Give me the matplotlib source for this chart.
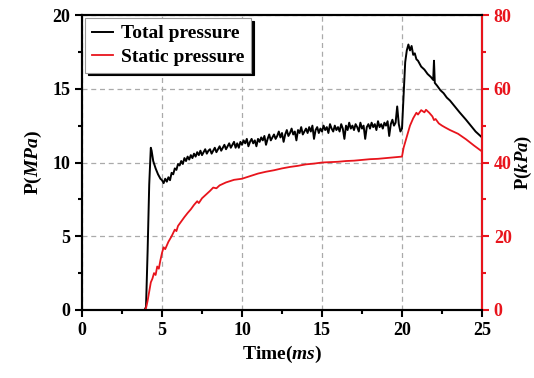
import numpy as np
import matplotlib
matplotlib.use('Agg')
import matplotlib.pyplot as plt
from matplotlib.ticker import MultipleLocator

# total pressure (MPa)
t_total = [0.0, 3.9, 4.0, 4.1, 4.2, 4.3, 4.35, 4.45, 4.6, 4.75, 4.9]
p_total = [0.0, 0.0, 0.2, 4.0, 8.5, 11.0, 10.8, 10.1, 9.6, 9.2, 8.9]
t_mid = [round(5.0 + 0.1 * i, 1) for i in range(150)]
p_mid = [
    8.8, 8.6, 8.9, 8.7, 9.0, 8.8, 9.3, 9.2, 9.6, 9.5,
    9.9, 9.8, 10.1, 9.9, 10.3, 10.1, 10.4, 10.2, 10.5, 10.3,
    10.6, 10.4, 10.7, 10.5, 10.8, 10.5, 10.7, 10.9, 10.6, 10.8,
    10.9, 10.6, 10.8, 11.0, 10.7, 10.9, 11.1, 10.8, 11.0, 11.2,
    10.9, 11.1, 11.3, 11.0, 11.2, 11.4, 11.0, 11.3, 11.0, 11.4,
    11.2, 11.5, 11.3, 11.6, 11.1, 11.4, 11.6, 11.3, 11.5, 11.1,
    11.6, 11.4, 11.7, 11.5, 11.8, 11.2, 11.6, 11.9, 11.5, 11.7,
    11.9, 11.6, 11.8, 12.1, 11.7, 12.0, 11.4, 11.9, 12.2, 11.8,
    12.0, 12.3, 11.9, 12.1, 11.5, 12.2, 12.0, 12.4, 11.9, 12.1,
    12.3, 12.0, 12.4, 12.1, 12.5, 11.6, 12.2, 12.4, 12.0, 12.3,
    12.1, 12.5, 12.2, 12.4, 12.0, 12.6, 12.3, 12.1, 12.5, 12.2,
    12.4, 12.1, 12.6, 12.3, 11.6, 12.5, 12.2, 12.7, 12.3, 12.5,
    12.2, 12.6, 12.4, 12.1, 12.7, 12.3, 12.5, 11.6, 12.4, 12.6,
    12.3, 12.7, 12.4, 12.6, 12.2, 12.8, 12.4, 12.6, 12.3, 12.7,
    12.5, 12.8, 11.8, 12.6, 12.9, 12.5, 12.7, 13.8, 12.6, 12.1,
]
t_end = [20.0, 20.1, 20.2, 20.3, 20.4, 20.5, 20.6, 20.7, 20.8, 20.9, 21.0,
         21.2, 21.4, 21.6, 21.8, 21.95, 22.0, 22.05, 22.2, 22.4, 22.6, 22.8,
         23.0, 23.3, 23.6, 24.0, 24.3, 24.6, 25.0]
p_end = [12.3, 14.5, 16.8, 17.6, 18.0, 17.6, 17.9, 17.3, 17.4, 17.0, 16.9,
         16.5, 16.3, 16.0, 15.8, 15.6, 16.9, 15.4, 15.2, 14.9, 14.7, 14.4,
         14.2, 13.8, 13.4, 12.9, 12.5, 12.1, 11.7]
t_total = t_total + t_mid + t_end
p_total = p_total + p_mid + p_end

# static pressure (kPa)
t_static = [0.0, 3.9, 4.0, 4.1, 4.2, 4.3, 4.4, 4.5, 4.6, 4.7, 4.8, 4.9, 5.0,
            5.1, 5.2, 5.4, 5.6, 5.8, 5.9, 6.0, 6.2, 6.4, 6.6, 6.8, 7.0, 7.2,
            7.3, 7.5, 7.8, 8.0, 8.2, 8.4, 8.6, 9.0, 9.5, 10.0, 10.5, 11.0,
            11.5, 12.0, 12.5, 13.0, 13.5, 14.0, 14.5, 15.0, 15.5, 16.0, 16.5,
            17.0, 17.5, 18.0, 18.5, 19.0, 19.5, 20.0, 20.1, 20.3, 20.5, 20.7,
            20.9, 21.0, 21.2, 21.4, 21.5, 21.7, 21.9, 22.0, 22.1, 22.3, 22.5,
            22.7, 23.0, 23.5, 24.0, 24.5, 25.0]
p_static = [0.0, 0.0, 0.5, 2.5, 5.0, 7.5, 8.5, 10.0, 9.5, 11.8, 11.2, 13.5,
            15.5, 17.0, 16.5, 18.5, 20.0, 21.8, 21.4, 22.8, 24.0, 25.2, 26.3,
            27.3, 28.5, 29.5, 29.0, 30.3, 31.5, 32.3, 33.2, 33.0, 33.8, 34.6,
            35.3, 35.6, 36.3, 37.0, 37.5, 37.9, 38.4, 38.8, 39.1, 39.5, 39.7,
            40.0, 40.1, 40.2, 40.4, 40.5, 40.7, 40.9, 41.0, 41.2, 41.4, 41.6,
            44.0, 47.0, 50.0, 52.0, 53.5, 53.0, 54.2, 53.6, 54.3, 53.5, 52.5,
            51.5, 51.8, 50.6, 50.0, 49.5, 48.8, 47.8, 46.3, 44.6, 43.0]

matplotlib.rc('font', family='Liberation Serif', weight='bold', size=13)
matplotlib.rc('mathtext', fontset='custom', it='Liberation Serif:bold:italic',
              rm='Liberation Serif:bold')
matplotlib.rc('axes', linewidth=1.5, labelweight='bold')

fig = plt.figure(figsize=(5.34, 3.78), dpi=100)
ax = fig.add_axes([0.1536, 0.1799, 0.749, 0.7804])
ax2 = ax.twinx()

l1, = ax.plot(t_total, p_total, color='black', lw=1.4, label='Total pressure')
l2, = ax2.plot(t_static, p_static, color='#e8141c', lw=1.3, label='Static pressure')

ax.set_xlim(0, 25)
ax.set_ylim(0, 20)
ax2.set_ylim(0, 80)
ax.xaxis.set_major_locator(MultipleLocator(5))
ax.xaxis.set_minor_locator(MultipleLocator(2.5))
ax.yaxis.set_major_locator(MultipleLocator(5))
ax.yaxis.set_minor_locator(MultipleLocator(2.5))
ax2.yaxis.set_major_locator(MultipleLocator(20))
ax2.yaxis.set_minor_locator(MultipleLocator(10))

ax.grid(True, which='major', ls=(0, (4, 3)), color='#aaaaaa', lw=0.9)
ax.tick_params(which='major', direction='out', length=5, width=1.5)
ax.tick_params(which='minor', direction='out', length=3, width=1.5)
ax2.tick_params(which='major', direction='out', length=5, width=1.5,
                colors='#e8141c')
ax2.tick_params(which='minor', direction='out', length=3, width=1.5,
                colors='#e8141c')
ax2.spines['right'].set_color('#e8141c')

ax.set_xlabel(r'Time($ms$)', fontsize=14, labelpad=4)
ax.set_ylabel(r'P($MPa$)', fontsize=14, labelpad=6)
ax2.set_ylabel(r'P($kPa$)', fontsize=13.5, rotation=90, labelpad=1)

leg = ax.legend([l1, l2], ['Total pressure', 'Static pressure'],
                loc='upper left', fontsize=14, fancybox=False,
                shadow={'color': 'black', 'alpha': 1.0},
                edgecolor='#999999', framealpha=1, borderaxespad=0.15,
                handlelength=1.1, handletextpad=0.4, borderpad=0.35,
                labelspacing=0.3)
leg.get_frame().set_linewidth(0.8)

fig.savefig('out.png', dpi=100)
